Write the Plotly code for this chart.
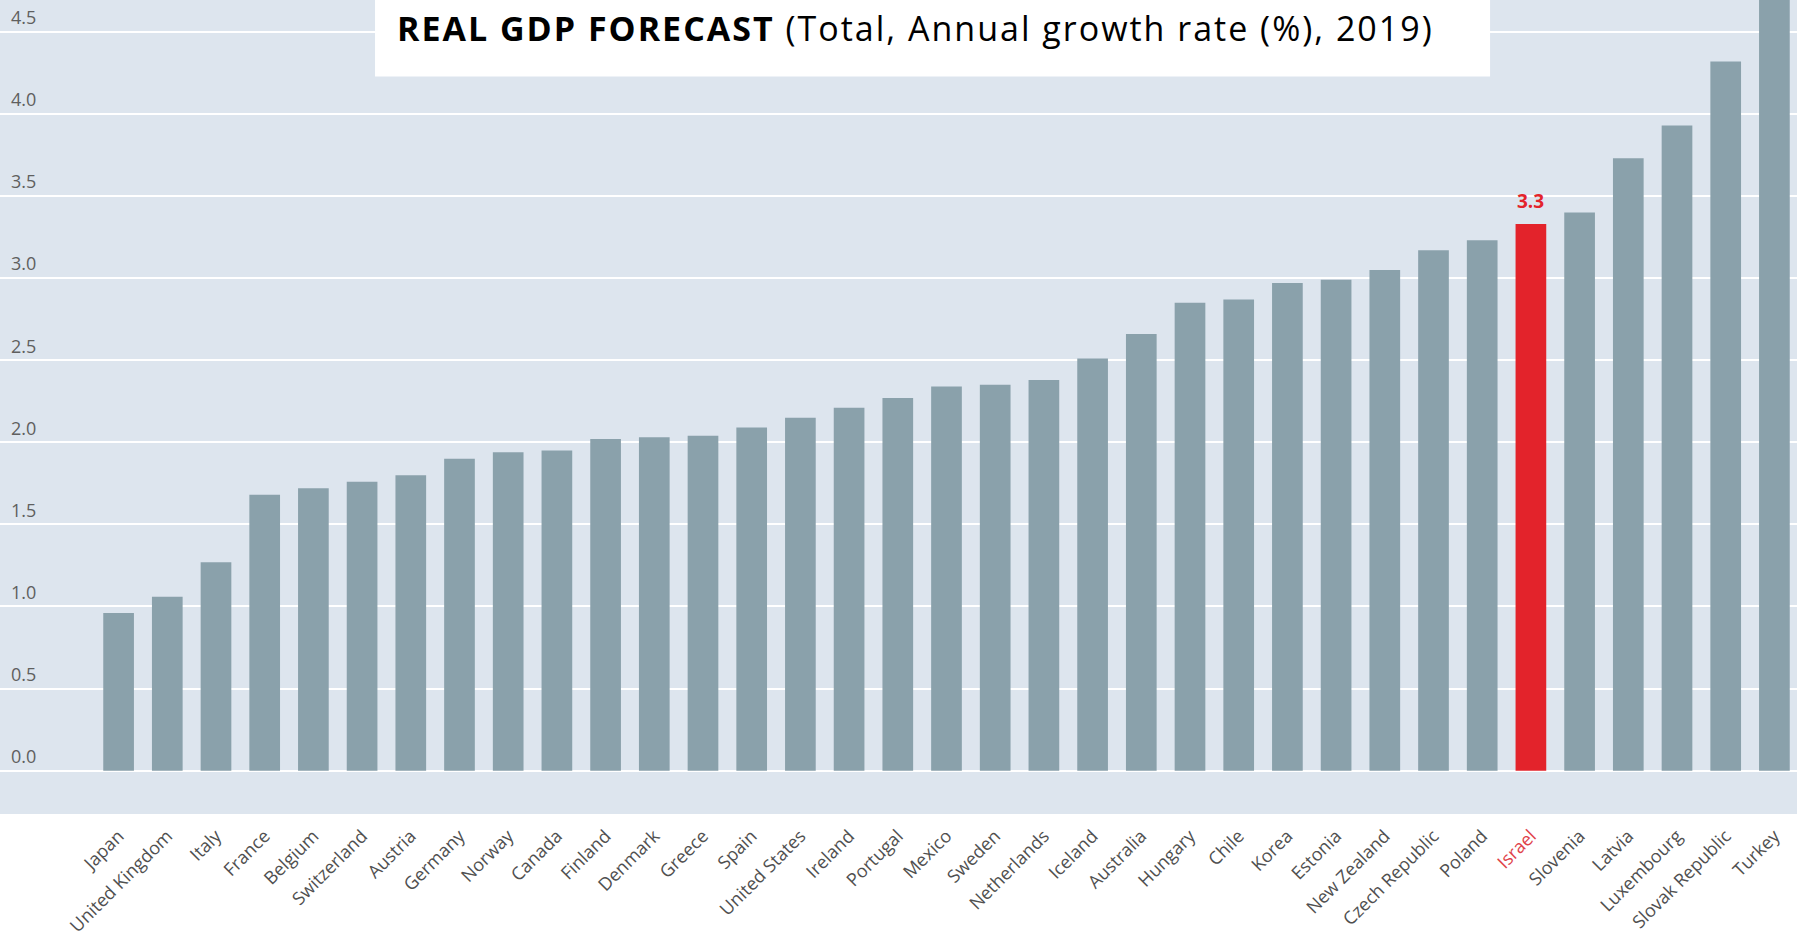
import plotly.graph_objects as go

categories = ["Japan", "United Kingdom", "Italy", "France", "Belgium", "Switzerland",
              "Austria", "Germany", "Norway", "Canada", "Finland", "Denmark", "Greece",
              "Spain", "United States", "Ireland", "Portugal", "Mexico", "Sweden",
              "Netherlands", "Iceland", "Australia", "Hungary", "Chile", "Korea",
              "Estonia", "New Zealand", "Czech Republic", "Poland", "Israel",
              "Slovenia", "Latvia", "Luxembourg", "Slovak Republic", "Turkey"]
values = [0.96, 1.06, 1.27, 1.68, 1.72, 1.76, 1.80, 1.90, 1.94, 1.95, 2.02, 2.03,
          2.04, 2.09, 2.15, 2.21, 2.27, 2.34, 2.35, 2.38, 2.51, 2.66, 2.85, 2.87,
          2.97, 2.99, 3.05, 3.17, 3.23, 3.33, 3.40, 3.73, 3.93, 4.32, 4.90]
highlight = "Israel"
y_ticks = [0.0, 0.5, 1.0, 1.5, 2.0, 2.5, 3.0, 3.5, 4.0, 4.5]

GREY = "#8aa1ab"
RED = "#e3232b"
LABEL_RED = "#e0424a"

colors = [RED if c == highlight else GREY for c in categories]
ticktext = [f'<span style="color:{LABEL_RED}">{c}</span>' if c == highlight else c
            for c in categories]

fig = go.Figure()
fig.add_trace(go.Bar(x=categories, y=values, marker=dict(color=colors, line=dict(width=0)),
                     hoverinfo="x+y"))

hi = categories.index(highlight)
fig.add_annotation(x=highlight, y=values[hi], text=f"<b>{values[hi]:.1f}</b>",
                   showarrow=False, yanchor="bottom", yshift=8,
                   font=dict(family="Open Sans", size=19, color=RED))

# title box
fig.add_shape(type="rect", xref="paper", yref="paper", x0=0.2087, x1=0.8292,
              y0=0.9059, y1=1.0, fillcolor="white", line=dict(width=0), layer="above")
fig.add_annotation(xref="paper", yref="paper", x=0.2198, y=0.965, xanchor="left",
                   yanchor="middle", showarrow=False,
                   text='<span style="letter-spacing:2px"><b>REAL GDP FORECAST</b> (Total, Annual growth rate (%), 2019)</span>',
                   font=dict(family="Open Sans", size=34, color="black"))

fig.update_layout(
    width=1797, height=937,
    margin=dict(l=0, r=0, t=0, b=119),
    paper_bgcolor="white",
    plot_bgcolor="#dde5ee",
    bargap=0.37,
    showlegend=False,
    font=dict(family="Open Sans", color="#555555"),
    xaxis=dict(type="category", range=[-2.435, 34.464], tickmode="array",
               tickvals=categories, ticktext=ticktext, tickangle=-45,
               tickfont=dict(family="Open Sans", size=18, color="#505050"), showgrid=False,
               showline=False, ticks="", zeroline=False, ticklabelstandoff=7),
    yaxis=dict(range=[-0.264, 4.694], tickvals=y_ticks,
               ticktext=[f"{v:.1f}" for v in y_ticks],
               ticklabelposition="inside", ticklabelshift=-14, ticklabelstandoff=8,
               tickfont=dict(family="Open Sans", size=18, color="#5f5f5f"),
               showgrid=True, gridcolor="white", gridwidth=2,
               zeroline=True, zerolinecolor="white", zerolinewidth=2,
               showline=False, ticks=""),
)

fig.write_html("out.html", config={"displayModeBar": False},
               post_script="document.body.style.margin='0';document.body.style.overflow='hidden';")
